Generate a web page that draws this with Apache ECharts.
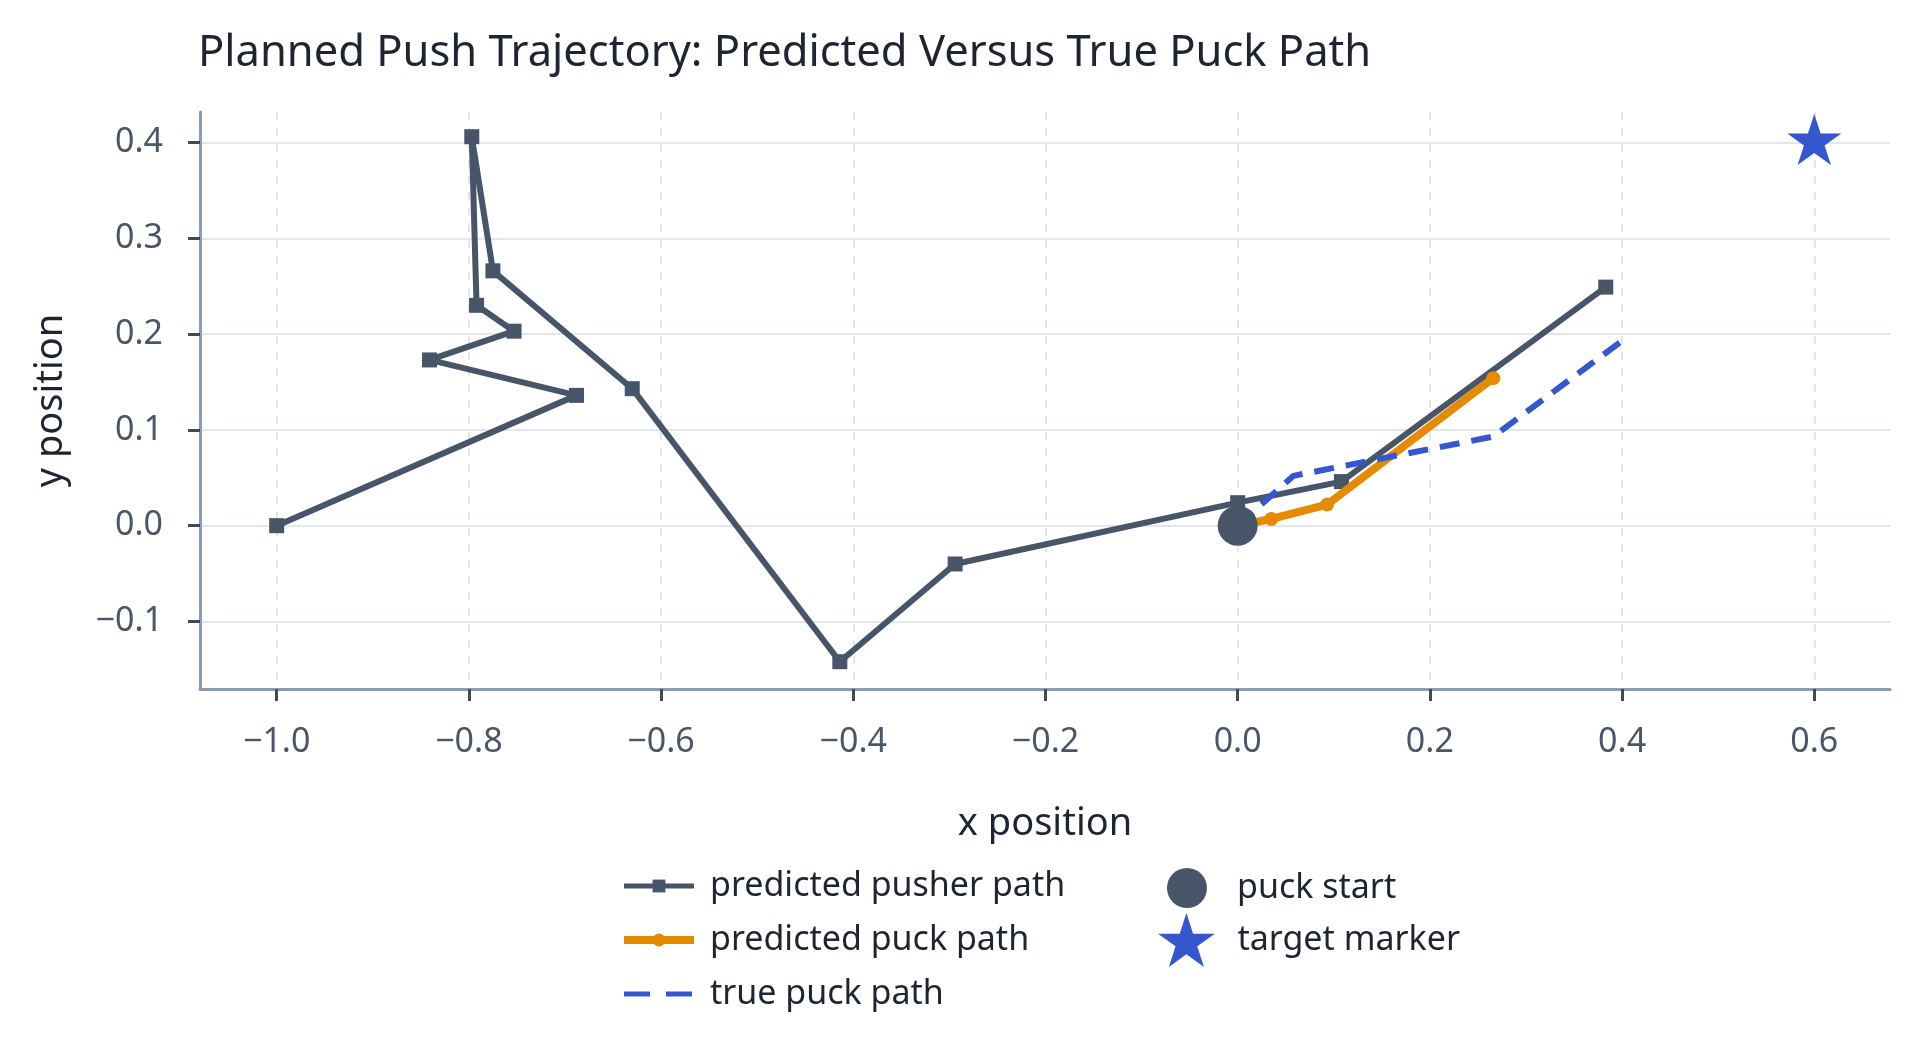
<!DOCTYPE html>
<html>
<head>
<meta charset="utf-8">
<title>Planned Push Trajectory</title>
<script src="https://cdn.jsdelivr.net/npm/echarts@6/dist/echarts.min.js"></script>
<style>
html, body { margin: 0; padding: 0; background: #fff; }
#chart { width: 1920px; height: 1059px; }
</style>
</head>
<body>
<div id="chart"></div>
<script>
// values
var pusherX = [-1.0, -0.688, -0.841, -0.753, -0.792, -0.797, -0.775, -0.630, -0.414, -0.294, 0.0, 0.108, 0.383];
var pusherY = [0.0, 0.136, 0.173, 0.203, 0.230, 0.406, 0.266, 0.143, -0.142, -0.040, 0.024, 0.046, 0.249];
var puckPredX = [0.0, 0.035, 0.093, 0.266];
var puckPredY = [0.0, 0.007, 0.022, 0.154];
var puckTrueX = [0.0, 0.058, 0.266, 0.400];
var puckTrueY = [0.0, 0.052, 0.093, 0.193];
var puckStart = [0.0, 0.0];
var target = [0.6, 0.4];
var xTicks = [-1.0, -0.8, -0.6, -0.4, -0.2, 0.0, 0.2, 0.4, 0.6];
var yTicks = [-0.1, 0.0, 0.1, 0.2, 0.3, 0.4];

var FONT = 'Noto Sans';
var slate = '#475569';
var orange = '#e68a00';
var blue = '#3457cf';
var star = 'path://M0,-10L2.245,-3.09L9.511,-3.09L3.633,1.18L5.878,8.09L0,3.82L-5.878,8.09L-3.633,1.18L-9.511,-3.09L-2.245,-3.09Z';

function pairs(xs, ys) {
    var out = [];
    for (var i = 0; i < xs.length; i++) out.push([xs[i], ys[i]]);
    return out;
}
function fmt(v) {
    return v.toFixed(1).replace('-', '\u2212');
}

var myChart = echarts.init(document.getElementById('chart'));

var legendText = { fontFamily: FONT, fontSize: 34, color: '#1e2430' };

option = {
    animation: false,
    backgroundColor: '#fff',
    title: {
        text: 'Planned Push Trajectory: Predicted Versus True Puck Path',
        left: 193,
        top: 27,
        textStyle: { fontFamily: FONT, fontSize: 43.5, fontWeight: 'normal', color: '#1e2430' }
    },
    grid: { left: 200, right: 30, top: 112, bottom: 370 },
    legend: [
        {
            data: [
                { name: 'predicted pusher path', lineStyle: { width: 5 } },
                { name: 'predicted puck path', lineStyle: { width: 8 } },
                { name: 'true puck path', lineStyle: { width: 5, type: [26, 16] }, itemStyle: { opacity: 0 } }
            ],
            orient: 'vertical',
            left: 615, top: 864,
            itemWidth: 70, itemHeight: 16, itemGap: 20,
            textStyle: Object.assign({ padding: [0, 0, 0, 11] }, legendText)
        },
        {
            data: [{ name: 'puck start', icon: 'circle' }],
            orient: 'vertical',
            left: 1162, top: 863,
            itemWidth: 56, itemHeight: 40,
            textStyle: Object.assign({ padding: [0, 0, 0, 17] }, legendText)
        },
        {
            data: [{ name: 'target marker', icon: star }],
            orient: 'vertical',
            left: 1153, top: 908,
            itemWidth: 58, itemHeight: 54,
            textStyle: Object.assign({ padding: [0, 0, 0, 17] }, legendText)
        }
    ],
    xAxis: {
        type: 'value',
        min: -1.0798,
        max: 0.6788,
        name: 'x position',
        nameLocation: 'middle',
        nameGap: 116,
        nameTextStyle: { fontFamily: FONT, fontSize: 38, color: '#1e2430' },
        axisLine: { show: true, onZero: false, lineStyle: { color: '#8c9bb3', width: 3 } },
        axisTick: { show: true, customValues: xTicks, length: 12, lineStyle: { color: '#3f4a5c', width: 3 } },
        axisLabel: { customValues: xTicks, margin: 36, fontFamily: FONT, fontSize: 34, color: '#4a5568', formatter: fmt },
        splitLine: { show: true, lineStyle: { color: '#e3e6eb', width: 2, type: [8, 8] } }
    },
    yAxis: {
        type: 'value',
        min: -0.1705,
        max: 0.4318,
        name: 'y position',
        nameLocation: 'middle',
        nameGap: 130,
        nameTextStyle: { fontFamily: FONT, fontSize: 38, color: '#1e2430' },
        axisLine: { show: true, onZero: false, lineStyle: { color: '#8c9bb3', width: 3 } },
        axisTick: { show: true, customValues: yTicks, length: 12, lineStyle: { color: '#3f4a5c', width: 3 } },
        axisLabel: { customValues: yTicks, margin: 37, fontFamily: FONT, fontSize: 34, color: '#4a5568', formatter: fmt },
        splitLine: { show: true, lineStyle: { color: '#e3e6eb', width: 2 } }
    },
    series: [
        {
            name: 'predicted pusher path',
            type: 'line',
            data: pairs(pusherX, pusherY),
            symbol: 'rect',
            symbolSize: 15,
            lineStyle: { color: slate, width: 6 },
            itemStyle: { color: slate },
            z: 2
        },
        {
            name: 'predicted puck path',
            type: 'line',
            data: pairs(puckPredX, puckPredY),
            symbol: 'circle',
            symbolSize: 14,
            lineStyle: { color: orange, width: 8 },
            itemStyle: { color: orange },
            z: 3
        },
        {
            name: 'true puck path',
            type: 'line',
            data: pairs(puckTrueX, puckTrueY),
            symbol: 'none',
            lineStyle: { color: blue, width: 6, type: [20, 12] },
            itemStyle: { color: blue },
            z: 4
        },
        {
            name: 'puck start',
            type: 'scatter',
            data: [puckStart],
            symbol: 'circle',
            symbolSize: 40,
            itemStyle: { color: slate, opacity: 1 },
            z: 5
        },
        {
            name: 'target marker',
            type: 'scatter',
            data: [target],
            symbol: star,
            symbolSize: [54, 51],
            symbolOffset: [0, -3],
            itemStyle: { color: blue, opacity: 1 },
            z: 5
        }
    ]
};

myChart.setOption(option);
</script>
</body>
</html>
